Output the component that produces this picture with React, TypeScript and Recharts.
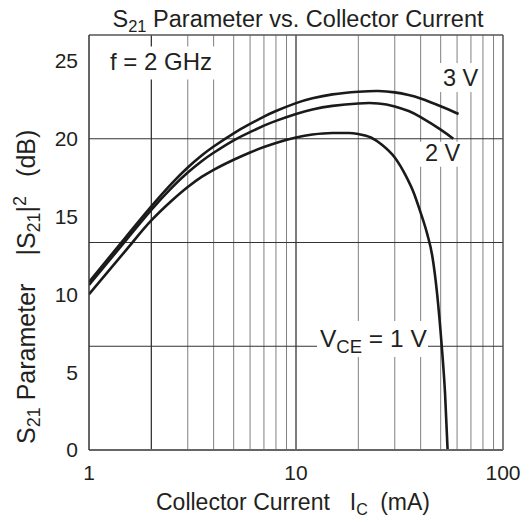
import React from 'react';
import { LineChart, Line, XAxis, YAxis, ReferenceLine, ReferenceDot } from 'recharts';

const FONT = '"Liberation Sans", Arial, Helvetica, sans-serif';
const INK = '#231f20';

const xTicks = [1, 10, 100];
const yTicks = [0, 5, 10, 15, 20, 25];
const xGridMinor = [3, 4, 5, 6, 7, 8, 9, 20, 30, 40, 50, 60, 70, 80, 90];
const xGridMajor = [2, 10];
const yGrid = [20 / 3, 40 / 3, 20];
const Y_MAX = 80 / 3;

const current3V = [1, 1.5, 2, 2.5, 3, 3.5, 4, 5, 6, 7, 8, 10, 12, 15, 20, 25, 30, 35, 40, 50, 61];
const gain3V = [10.8, 13.65, 15.65, 17.1, 18.15, 18.92, 19.5, 20.35, 20.95, 21.42, 21.78, 22.29, 22.6, 22.85, 23.02, 23.07, 22.98, 22.81, 22.59, 22.09, 21.59];

const current2V = [1, 1.5, 2, 2.5, 3, 3.5, 4, 5, 6, 7, 8, 10, 12, 15, 20, 25, 30, 35, 40, 50, 57.5];
const gain2V = [10.6, 13.44, 15.43, 16.83, 17.83, 18.56, 19.1, 19.9, 20.43, 20.84, 21.15, 21.59, 21.88, 22.11, 22.27, 22.27, 22.08, 21.78, 21.39, 20.59, 20.0];

const current1V = [1, 1.5, 2, 2.5, 3, 3.5, 4, 5, 6, 7, 8, 10, 12, 15, 18, 20, 23, 26, 30, 34, 37, 40, 43, 45.5, 48, 50.5, 52.5, 54];
const gain1V = [10.0, 12.8, 14.75, 16.0, 16.9, 17.55, 18.0, 18.65, 19.12, 19.47, 19.73, 20.08, 20.27, 20.37, 20.37, 20.3, 20.08, 19.62, 18.8, 17.6, 16.55, 15.25, 13.9, 12.5, 10.1, 6.8, 3.6, 0];

const toPoints = (xs: number[], ys: number[]) => xs.map((x, i) => ({ current: x, gain: ys[i] }));
const data3V = toPoints(current3V, gain3V);
const data2V = toPoints(current2V, gain2V);
const data1V = toPoints(current1V, gain1V);

const textStyle = { fontFamily: FONT, fill: INK };

const FreqLabel = (p: any) => (
  <g>
    <rect x={p.cx - 7} y={p.cy - 16} width={112} height={33} fill="#fff" />
    <text x={p.cx} y={p.cy + 8} fontSize={24} {...textStyle}>f = 2 GHz</text>
  </g>
);

const ThreeVLabel = (p: any) => (
  <g>
    <rect x={p.cx - 3} y={p.cy - 15} width={41} height={29} fill="#fff" />
    <text x={p.cx} y={p.cy + 8} fontSize={23.5} {...textStyle}>3 V</text>
  </g>
);

const TwoVLabel = (p: any) => (
  <g>
    <rect x={p.cx - 6} y={p.cy - 11} width={43} height={25} fill="#fff" />
    <text x={p.cx} y={p.cy + 8} fontSize={23.5} {...textStyle}>2 V</text>
  </g>
);

const VceLabel = (p: any) => (
  <g>
    <rect x={p.cx - 3} y={p.cy - 26} width={111} height={36} fill="#fff" />
    <text x={p.cx} y={p.cy} fontSize={24.5} {...textStyle}>
      V<tspan fontSize={18.5} dy={6}>CE</tspan>
      <tspan dy={-6}> = 1 V</tspan>
    </text>
  </g>
);

export default function App() {
  return (
    <div style={{ position: 'absolute', left: 0, top: 0, width: 531, height: 522, background: '#fff' }}>
      <LineChart width={531} height={522} data={data3V} margin={{ top: 35, right: 28, bottom: 42, left: 29 }}>
        <XAxis
          dataKey="current"
          type="number"
          scale="log"
          domain={[1, 100]}
          ticks={xTicks}
          interval={0}
          allowDataOverflow
          tickLine={false}
          axisLine={{ stroke: '#666', strokeWidth: 2 }}
          tick={{ fontSize: 21, fill: INK, fontFamily: FONT }}
          tickMargin={9}
          height={30}
        />
        <YAxis
          type="number"
          domain={[0, Y_MAX]}
          ticks={yTicks}
          interval={0}
          allowDataOverflow
          tickLine={false}
          axisLine={{ stroke: '#333', strokeWidth: 1.5 }}
          tick={{ fontSize: 21, fill: INK, fontFamily: FONT }}
          tickMargin={5}
          width={60}
        />
        {xGridMinor.map((v) => (
          <ReferenceLine key={'xg' + v} x={v} stroke="#808080" strokeWidth={1} />
        ))}
        {xGridMajor.map((v) => (
          <ReferenceLine key={'xm' + v} x={v} stroke="#262626" strokeWidth={1.2} />
        ))}
        {yGrid.map((v) => (
          <ReferenceLine key={'yg' + v} y={v} stroke="#333" strokeWidth={1} />
        ))}
        <ReferenceLine y={Y_MAX} stroke="#555" strokeWidth={1.5} />
        <ReferenceLine x={100} stroke="#555" strokeWidth={1.5} />
        <Line data={data3V} dataKey="gain" type="natural" stroke="#1a1a1a" strokeWidth={2.6} dot={false} isAnimationActive={false} />
        <Line data={data2V} dataKey="gain" type="natural" stroke="#1a1a1a" strokeWidth={2.6} dot={false} isAnimationActive={false} />
        <Line data={data1V} dataKey="gain" type="monotone" stroke="#1a1a1a" strokeWidth={2.6} dot={false} isAnimationActive={false} />
        <ReferenceDot x={1.263} y={24.9} r={0} shape={FreqLabel} />
        <ReferenceDot x={51.3} y={23.9} r={0} shape={ThreeVLabel} />
        <ReferenceDot x={42.0} y={19.1} r={0} shape={TwoVLabel} />
        <ReferenceDot x={13.06} y={6.62} r={0} shape={VceLabel} />
      </LineChart>
      <svg width={531} height={522} style={{ position: 'absolute', left: 0, top: 0, pointerEvents: 'none' }}>
        <text x={298} y={27} textAnchor="middle" fontSize={23.5} {...textStyle}>
          S<tspan fontSize={16.5} dy={5}>21</tspan>
          <tspan dy={-5}> Parameter vs. Collector Current</tspan>
        </text>
        <text x={156} y={510} fontSize={23} {...textStyle}>
          Collector Current<tspan dx={20}>I</tspan>
          <tspan fontSize={16} dy={5}>C</tspan>
          <tspan dy={-5} dx={6}> (mA)</tspan>
        </text>
        <text transform="translate(35, 444) rotate(-90)" fontSize={25} {...textStyle}>
          S<tspan fontSize={18} dy={5}>21</tspan>
          <tspan dy={-5}> Parameter</tspan>
          <tspan dx={28}>|S</tspan>
          <tspan fontSize={18} dy={5}>21</tspan>
          <tspan dy={-5}>|</tspan>
          <tspan fontSize={18} dy={-9}>2</tspan>
          <tspan dy={9} dx={12}> (dB)</tspan>
        </text>
      </svg>
    </div>
  );
}
